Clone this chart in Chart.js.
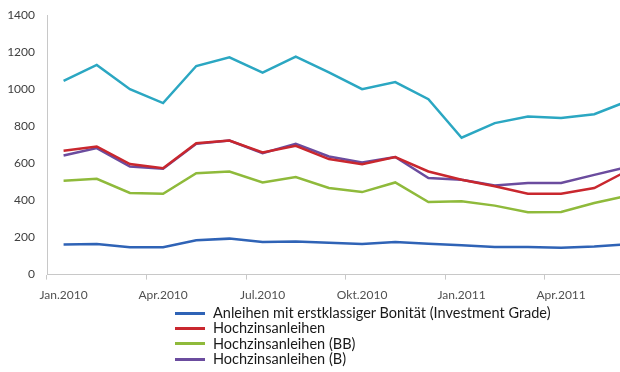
<!DOCTYPE html>
<html>
<head>
<meta charset="utf-8">
<script src="https://cdn.jsdelivr.net/npm/chart.js@4/dist/chart.umd.min.js"></script>
<style>
  html, body { margin: 0; padding: 0; background: #fff; }
  #wrap { position: relative; width: 620px; height: 372px; overflow: hidden; }
  #chart { position: absolute; left: 0; top: 0; }
  #legend { position: absolute; left: 175px; top: 305px; font-family: Lato, sans-serif; font-size: 14.5px; color: #1a1a1a; }
  #legend div { height: 15.3px; line-height: 15.3px; white-space: nowrap; }
  #legend span { display: inline-block; width: 30px; height: 3px; margin-right: 8px; vertical-align: middle; position: relative; top: -1px; }
</style>
</head>
<body>
<div id="wrap">
  <canvas id="chart" width="650" height="310"></canvas>
  <div id="legend"></div>
</div>
<script>
// Monatswerte Jan.2010 - Jun.2011
var months = ['Jan.2010', 'Feb.2010', 'Mär.2010', 'Apr.2010', 'Mai.2010', 'Jun.2010',
              'Jul.2010', 'Aug.2010', 'Sep.2010', 'Okt.2010', 'Nov.2010', 'Dez.2010',
              'Jan.2011', 'Feb.2011', 'Mär.2011', 'Apr.2011', 'Mai.2011', 'Jun.2011'];

var investmentGrade = [162, 165, 147, 147, 185, 194, 176, 179, 172, 165, 176, 167, 158, 149, 149, 145, 152, 164];
var hochzins        = [668, 691, 596, 574, 709, 723, 659, 695, 623, 595, 634, 556, 512, 476, 436, 436, 467, 560];
var hochzinsBB      = [506, 517, 440, 436, 547, 556, 497, 526, 467, 445, 497, 391, 395, 372, 336, 338, 386, 425];
var hochzinsB       = [642, 682, 583, 571, 705, 723, 655, 705, 637, 605, 634, 521, 512, 481, 494, 494, 538, 580];
var hyTotal         = [1045, 1131, 1000, 925, 1125, 1172, 1089, 1175, 1090, 1000, 1038, 946, 738, 817, 853, 844, 865, 935];

var yTicks = [0, 200, 400, 600, 800, 1000, 1200, 1400];

var ctx = document.getElementById('chart').getContext('2d');
var chart = new Chart(ctx, {
    type: 'line',
    data: {
        labels: months,
        datasets: [
            { label: 'Anleihen mit erstklassiger Bonität (Investment Grade)', data: investmentGrade, borderColor: '#2f63b6' },
            { label: 'Hochzinsanleihen', data: hochzins, borderColor: '#c9272e' },
            { label: 'Hochzinsanleihen (BB)', data: hochzinsBB, borderColor: '#8fba3b' },
            { label: 'Hochzinsanleihen (B)', data: hochzinsB, borderColor: '#6b4c9e' },
            { label: '', data: hyTotal, borderColor: '#2ba7c2', inLegend: false }
        ]
    },
    options: {
        responsive: false,
        animation: false,
        layout: { autoPadding: false, padding: { left: 8, top: 0, right: 6, bottom: 0 } },
        elements: {
            line: { borderWidth: 2.5, tension: 0, fill: false },
            point: { radius: 0 }
        },
        plugins: {
            legend: { display: false },
            tooltip: { enabled: false }
        },
        scales: {
            x: {
                offset: true,
                grid: {
                    offset: true,
                    drawOnChartArea: false,
                    drawTicks: true,
                    tickLength: 5,
                    color: function (c) { return c.index % 3 === 0 ? '#c8c8c8' : 'rgba(0,0,0,0)'; }
                },
                border: { display: true, color: '#c8c8c8', width: 1 },
                ticks: {
                    autoSkip: false,
                    maxRotation: 0,
                    padding: 8,
                    color: '#505050',
                    font: { family: 'Lato', size: 12 },
                    callback: function (v, i) { return i % 3 === 0 ? months[i] : ''; }
                }
            },
            y: {
                min: 0,
                max: 1400,
                afterBuildTicks: function (s) { s.ticks = yTicks.map(function (v) { return { value: v }; }); },
                afterFit: function (s) { s.width = 39; s.paddingTop = 15; },
                grid: { display: false, drawTicks: false },
                border: { display: true, color: '#c8c8c8', width: 1 },
                ticks: {
                    padding: 12,
                    color: '#404040',
                    font: { family: 'Lato', size: 12 },
                    callback: function (v) { return String(v); }
                }
            }
        }
    }
});

// Legende unter dem Diagramm, eine Zeile je Reihe
var legend = document.getElementById('legend');
chart.data.datasets.forEach(function (ds) {
    if (ds.inLegend === false) return;
    var row = document.createElement('div');
    var line = document.createElement('span');
    line.style.background = ds.borderColor;
    row.appendChild(line);
    row.appendChild(document.createTextNode(ds.label));
    legend.appendChild(row);
});
</script>
</body>
</html>
